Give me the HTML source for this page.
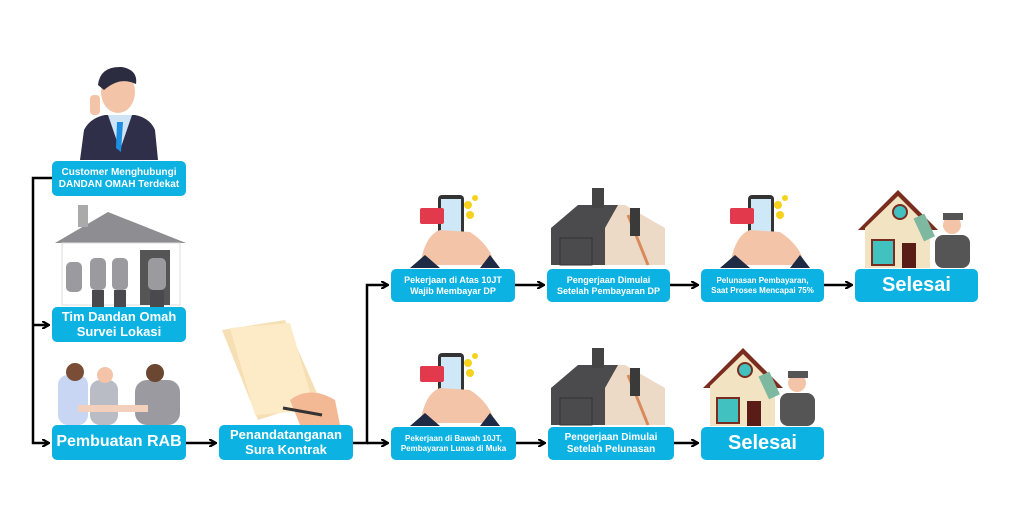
<!DOCTYPE html>
<html><head><meta charset="utf-8"><style>
html,body{margin:0;padding:0;background:#fff;}
.b{position:absolute;background:#0bb2e2;border-radius:5px;color:#fff;font-family:"Liberation Sans",sans-serif;font-weight:bold;display:flex;align-items:center;justify-content:center;text-align:center;line-height:1.15;}
</style></head><body>
<div style="position:relative;width:1024px;height:512px;overflow:hidden;">
<svg width="1024" height="512" style="position:absolute;left:0;top:0">
<defs><marker id="a" markerWidth="8" markerHeight="8" refX="6" refY="4" orient="auto" markerUnits="userSpaceOnUse"><path d="M0,0 L7,4 L0,8" fill="none" stroke="#000" stroke-width="2.2"/></marker></defs>
<g stroke="#000" stroke-width="2.5" fill="none">
<polyline points="52,178 33,178 33,443 48,443" marker-end="url(#a)"/>
<line x1="33" y1="325" x2="48" y2="325" marker-end="url(#a)"/>
<line x1="186" y1="443" x2="215" y2="443" marker-end="url(#a)"/>
<polyline points="353,443 367,443 367,285 387,285" marker-end="url(#a)"/>
<line x1="367" y1="443" x2="387" y2="443" marker-end="url(#a)"/>
<line x1="515" y1="285" x2="543" y2="285" marker-end="url(#a)"/>
<line x1="670" y1="285" x2="697" y2="285" marker-end="url(#a)"/>
<line x1="824" y1="285" x2="851" y2="285" marker-end="url(#a)"/>
<line x1="516" y1="443" x2="544" y2="443" marker-end="url(#a)"/>
<line x1="674" y1="443" x2="697" y2="443" marker-end="url(#a)"/>
</g>
<path d="M80,160 L84,130 Q90,118 105,115 L135,115 Q150,118 155,130 L158,160 Z" fill="#2f2f4a"/>
<path d="M108,115 L120,150 L132,115 Z" fill="#cfe3f7"/><path d="M117,122 L123,122 L121,152 L116,148 Z" fill="#1c8fe0"/>
<ellipse cx="118" cy="92" rx="17" ry="21" fill="#f3c4a8"/><path d="M98,85 Q100,66 122,67 Q138,70 136,84 Q120,76 104,90 Z" fill="#2c2c40"/>
<rect x="90" y="95" width="10" height="20" rx="4" fill="#f3c4a8"/>
<path d="M55,243 L108,212 L186,243 Z" fill="#8d8d92"/><rect x="78" y="205" width="10" height="22" fill="#aaa"/>
<rect x="62" y="243" width="118" height="62" fill="#fff" stroke="#ddd"/><rect x="140" y="250" width="30" height="55" fill="#555"/>
<g fill="#9a9a9f"><rect x="66" y="262" width="16" height="30" rx="5"/><rect x="90" y="258" width="16" height="32" rx="5"/><rect x="112" y="258" width="16" height="32" rx="5"/><rect x="148" y="258" width="18" height="32" rx="5"/></g>
<g fill="#4a4a4e"><rect x="92" y="290" width="12" height="17"/><rect x="114" y="290" width="12" height="17"/><rect x="150" y="290" width="14" height="17"/></g>
<rect x="58" y="375" width="30" height="50" rx="10" fill="#c8d6f3"/><rect x="90" y="380" width="28" height="45" rx="10" fill="#b9bcc4"/><rect x="135" y="380" width="45" height="45" rx="12" fill="#9a9aa0"/>
<circle cx="75" cy="372" r="9" fill="#7a4e36"/><circle cx="105" cy="375" r="8" fill="#f3c4a8"/><circle cx="155" cy="373" r="9" fill="#6b4630"/>
<rect x="78" y="405" width="70" height="7" fill="#f2d0bb"/>
<path d="M222,330 L285,320 L320,400 L258,420 Z" fill="#f6dfb5"/><path d="M230,328 L290,323 L315,410 L255,415 Z" fill="#fdebc7"/>
<path d="M290,400 Q310,385 335,400 L340,425 L300,425 Z" fill="#f3b894"/><line x1="283" y1="408" x2="322" y2="415" stroke="#333" stroke-width="3"/>
<g id="ph"><rect x="438" y="195" width="26" height="50" rx="4" fill="#333"/><rect x="441" y="199" width="20" height="42" fill="#cfe8f8"/>
<rect x="420" y="208" width="24" height="16" rx="2" fill="#e2394d"/>
<g fill="#f7d21c"><circle cx="468" cy="205" r="4"/><circle cx="475" cy="198" r="3"/><circle cx="470" cy="215" r="4"/></g>
<path d="M420,265 Q425,235 440,230 L470,232 Q490,245 495,265 Z" fill="#f3c4a8"/><path d="M410,268 L425,255 L440,268 Z M480,268 L490,255 L500,268 Z" fill="#1f2a44"/></g>
<use href="#ph" transform="translate(0,158)"/>
<use href="#ph" transform="translate(310,0)"/>
<g id="rf"><path d="M551,228 L578,205 L625,205 L665,228 L665,265 L551,265 Z" fill="#ecdac6"/><path d="M551,228 L578,205 L618,205 L605,228 L605,265 L551,265 Z" fill="#4b4b4d"/>
<rect x="560" y="238" width="32" height="27" fill="none" stroke="#333"/>
<line x1="628" y1="215" x2="648" y2="265" stroke="#d88a5a" stroke-width="3"/><rect x="592" y="188" width="12" height="20" fill="#444"/><rect x="630" y="208" width="10" height="28" fill="#3a3a3a"/></g>
<use href="#rf" transform="translate(0,160)"/>
<g id="hs"><path d="M858,230 L898,190 L938,230 Z" fill="#7a2d1e"/><path d="M865,228 L898,196 L930,228 L930,268 L865,268 Z" fill="#f2e3c2"/>
<circle cx="900" cy="212" r="7" fill="#41c1c0" stroke="#7a2d1e" stroke-width="2"/><rect x="872" y="240" width="22" height="25" fill="#41c1c0" stroke="#7a2d1e" stroke-width="2"/><rect x="902" y="243" width="14" height="25" fill="#5a1c16"/>
<rect x="935" y="235" width="35" height="33" rx="8" fill="#555"/><circle cx="952" cy="225" r="9" fill="#f3c4a8"/><rect x="943" y="213" width="20" height="7" fill="#555"/>
<rect x="918" y="215" width="12" height="25" fill="#7fb8a0" transform="rotate(-25 924 227)"/></g>
<use href="#hs" transform="translate(-155,158)"/>
</svg>
<div class="b" style="left:52px;top:161px;width:134px;height:35px;font-size:10px;">Customer Menghubungi<br>DANDAN OMAH Terdekat</div>
<div class="b" style="left:52px;top:307px;width:134px;height:35px;font-size:13px;">Tim Dandan Omah<br>Survei Lokasi</div>
<div class="b" style="left:52px;top:425px;width:134px;height:35px;font-size:16px;">Pembuatan RAB</div>
<div class="b" style="left:219px;top:425px;width:134px;height:35px;font-size:13px;">Penandatanganan<br>Sura Kontrak</div>
<div class="b" style="left:391px;top:269px;width:124px;height:33px;font-size:9px;">Pekerjaan di Atas 10JT<br>Wajib Membayar DP</div>
<div class="b" style="left:547px;top:269px;width:123px;height:33px;font-size:9px;">Pengerjaan Dimulai<br>Setelah Pembayaran DP</div>
<div class="b" style="left:701px;top:269px;width:123px;height:33px;font-size:8px;">Pelunasan Pembayaran,<br>Saat Proses Mencapai 75%</div>
<div class="b" style="left:855px;top:269px;width:123px;height:33px;font-size:20px;">Selesai</div>
<div class="b" style="left:391px;top:427px;width:125px;height:33px;font-size:8px;">Pekerjaan di Bawah 10JT,<br>Pembayaran Lunas di Muka</div>
<div class="b" style="left:548px;top:427px;width:126px;height:33px;font-size:10px;">Pengerjaan Dimulai<br>Setelah Pelunasan</div>
<div class="b" style="left:701px;top:427px;width:123px;height:33px;font-size:20px;">Selesai</div>
</div>
</body></html>
